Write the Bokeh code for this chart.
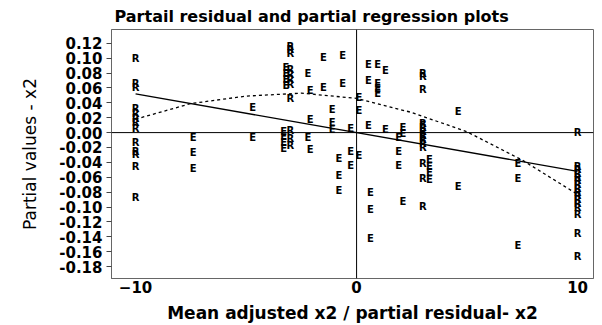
from bokeh.plotting import figure
from bokeh.models import Range1d, FixedTicker, PrintfTickFormatter, Span, ColumnDataSource
from bokeh.core.properties import value
from bokeh.embed import file_html
from bokeh.resources import INLINE

# ---------------- data ----------------
title_text = "Partail residual and partial regression plots"
x_label = "Mean adjusted x2 / partial residual- x2"
y_label = "Partial values - x2"
x_ticks = [-10, 0, 10]
y_ticks = [-0.18, -0.16, -0.14, -0.12, -0.10, -0.08, -0.06, -0.04, -0.02,
           0.00, 0.02, 0.04, 0.06, 0.08, 0.10, 0.12]

# partial residuals "R" (x2 levels)
r_levels = [-10, -3, 3, 10]
r_vals_m10 = [0.100, 0.066, 0.060, 0.032, 0.026, 0.019, 0.013, 0.006,
              -0.013, -0.026, -0.030, -0.046, -0.087]
r_vals_m3 = [0.116, 0.111, 0.106, 0.085, 0.078, 0.071, 0.064, 0.046,
             0.003, -0.008, -0.017]
r_vals_p3 = [0.080, 0.076, 0.058, 0.012, 0.007, 0.002, -0.004, -0.009,
             -0.015, -0.020, -0.041, -0.062, -0.099]
r_vals_p10 = [0.000, -0.045, -0.050, -0.055, -0.060, -0.065, -0.070, -0.075,
              -0.080, -0.085, -0.090, -0.095, -0.101, -0.110, -0.135, -0.167]

# partial regression "E" (mean adjusted x2, value)
e_x = [-7.4, -7.4, -7.4, -4.7, -4.7,
       -3.2, -3.2, -3.2, -3.2, -3.3, -3.3, -3.3, -3.3,
       -2.2, -2.1, -2.1, -2.2, -2.1,
       -1.5, -1.5, -0.63, -0.63, -1.1, -1.1, -1.1, -0.27,
       -0.8, -0.8, -0.8, -0.27, -0.27, 0.1, 0.1, 0.1,
       0.54, 0.95, 1.3, 0.54, 0.95, 0.95, 0.95, 0.54, 1.3,
       2.1, 2.1, 1.9, 1.9, 1.9, 0.63, 0.63, 0.63, 2.1,
       3.0, 3.0, 3.0, 3.3, 3.3, 3.3, 3.3,
       4.6, 4.6, 7.3, 7.3, 7.3]
e_y = [-0.006, -0.027, -0.048, 0.034, -0.006,
       0.087, 0.079, 0.071, 0.063, 0.002, -0.005, -0.013, -0.021,
       0.079, 0.056, 0.018, -0.006, -0.023,
       0.101, 0.060, 0.104, 0.066, 0.031, 0.013, 0.004, 0.006,
       -0.035, -0.058, -0.078, -0.026, -0.044, -0.031, 0.047, 0.030,
       0.092, 0.092, 0.084, 0.070, 0.066, 0.059, 0.052, 0.010, 0.004,
       0.007, -0.001, -0.006, -0.026, -0.044, -0.080, -0.103, -0.142, -0.093,
       0.010, -0.002, -0.012, -0.036, -0.046, -0.054, -0.063,
       0.028, -0.073, -0.041, -0.062, -0.152]

# fitted lines
fit_x = [-10, 10]
fit_y = [0.052, -0.052]
curve_x = [-10, -7.5, -5, -2.5, 0, 2.5, 5, 7.5, 10]
curve_y = [0.018, 0.039, 0.049, 0.053, 0.046, 0.027, 0.001, -0.037, -0.083]

# ---------------- build ----------------
r_x, r_y = [], []
for lev, vals in zip(r_levels, [r_vals_m10, r_vals_m3, r_vals_p3, r_vals_p10]):
    r_x += [lev] * len(vals)
    r_y += vals

FONT = "DejaVu Sans"

p = figure(width=602, height=325,
           x_range=Range1d(-11.09, 10.72), y_range=Range1d(-0.196, 0.1385),
           output_backend="svg", toolbar_location=None,
           min_border_left=111, min_border_right=9,
           min_border_top=29, min_border_bottom=43,
           background_fill_color="white", border_fill_color="white")

p.title.text = title_text
p.title.align = "left"
p.title.offset = 3
p.title.text_font = FONT
p.title.text_font_size = "16px"
p.title.text_font_style = "bold"
p.title.text_color = "black"
p.title.standoff = 7

p.grid.visible = False
p.outline_line_color = "#666666"
p.outline_line_width = 1

p.xaxis.ticker = FixedTicker(ticks=x_ticks)
p.yaxis.ticker = FixedTicker(ticks=y_ticks)
p.yaxis.formatter = PrintfTickFormatter(format="%.2f")
for ax in (p.xaxis, p.yaxis):
    ax.major_label_text_font = FONT
    ax.major_label_text_font_style = "bold"
    ax.major_label_text_font_size = "15px"
    ax.major_label_text_color = "black"
    ax.axis_label_text_font = FONT
    ax.axis_label_text_color = "black"
    ax.minor_tick_line_color = None
    ax.axis_line_color = "#666666"
    ax.major_tick_line_color = "#444444"
    ax.major_tick_in = 0

p.xaxis.axis_label = x_label
p.yaxis.axis_label = y_label
p.xaxis.axis_label_text_font_style = "bold"
p.xaxis.axis_label_text_font_size = "17px"
p.yaxis.axis_label_text_font_style = "normal"
p.yaxis.axis_label_text_font_size = "17px"
p.xaxis.major_tick_out = 0
p.xaxis.major_label_standoff = 2
p.xaxis.axis_label_standoff = 7
p.yaxis.major_tick_out = 5
p.yaxis.major_label_standoff = 4
p.yaxis.axis_label_standoff = 16

p.add_layout(Span(location=0, dimension="width", line_color="black", line_width=1))
p.add_layout(Span(location=0, dimension="height", line_color="black", line_width=1))

p.line(fit_x, fit_y, line_color="black", line_width=1.3)
p.line(curve_x, curve_y, line_color="black", line_width=1.3, line_dash="3 3")

common = dict(text_font=value(FONT), text_font_style="bold", text_font_size="10px",
              text_align="center", text_baseline="middle", text_color="black")
p.text(x="x", y="y", text="t",
       source=ColumnDataSource(dict(x=r_x, y=r_y, t=["R"] * len(r_x))), **common)
p.text(x="x", y="y", text="t",
       source=ColumnDataSource(dict(x=e_x, y=e_y, t=["E"] * len(e_x))), **common)

open("out.html", "w").write(file_html(p, INLINE))
